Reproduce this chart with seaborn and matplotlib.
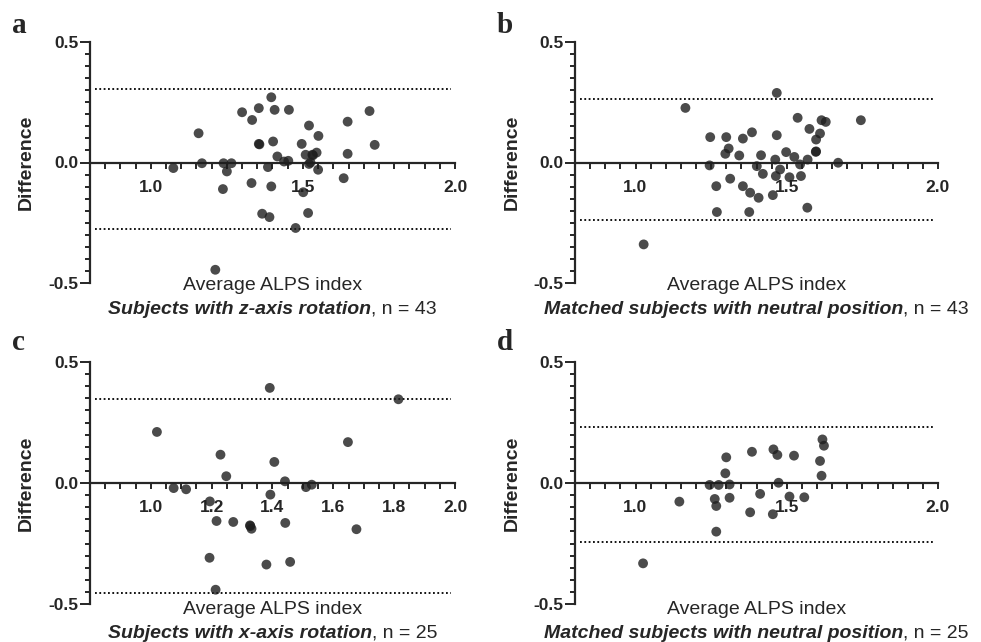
import numpy as np
import pandas as pd
import matplotlib
matplotlib.use('Agg')
import matplotlib.pyplot as plt
import seaborn as sns
from matplotlib.ticker import FixedLocator, MultipleLocator, FormatStrFormatter

# Bland-Altman data
a_avg = [1.074, 1.157, 1.168, 1.239, 1.250, 1.265, 1.237, 1.300, 1.333, 1.355, 1.355, 1.357,
         1.396, 1.407, 1.454, 1.402, 1.416, 1.438, 1.452, 1.385, 1.331, 1.396, 1.366, 1.390,
         1.476, 1.496, 1.520, 1.551, 1.509, 1.531, 1.545, 1.520, 1.525, 1.550, 1.501, 1.517,
         1.634, 1.647, 1.647, 1.719, 1.736, 1.212, 1.533]
a_diff = [-0.023, 0.121, -0.003, -0.003, -0.037, -0.003, -0.110, 0.208, 0.176, 0.225, 0.077, 0.075,
          0.270, 0.218, 0.218, 0.087, 0.025, 0.004, 0.007, -0.019, -0.085, -0.099, -0.212, -0.226,
          -0.271, 0.077, 0.153, 0.110, 0.032, 0.032, 0.041, -0.006, 0.000, -0.030, -0.123, -0.209,
          -0.065, 0.169, 0.036, 0.213, 0.073, -0.444, 0.030]
a_limits = [0.303, -0.275]

b_avg = [1.165, 1.027, 1.247, 1.245, 1.267, 1.269, 1.300, 1.308, 1.297, 1.313, 1.343, 1.355,
         1.385, 1.355, 1.379, 1.376, 1.407, 1.401, 1.415, 1.421, 1.454, 1.462, 1.467, 1.467,
         1.464, 1.478, 1.498, 1.509, 1.525, 1.536, 1.547, 1.544, 1.568, 1.569, 1.575, 1.596,
         1.597, 1.610, 1.615, 1.629, 1.670, 1.745, 1.597]
b_diff = [0.226, -0.339, 0.105, -0.012, -0.098, -0.205, 0.105, 0.058, 0.036, -0.067, 0.029, 0.099,
          0.125, -0.098, -0.125, -0.205, -0.146, -0.015, 0.030, -0.047, -0.135, 0.012, 0.113, 0.288,
          -0.056, -0.029, 0.043, -0.061, 0.023, 0.185, -0.056, -0.008, -0.187, 0.012, 0.139, 0.044,
          0.095, 0.120, 0.175, 0.168, -0.001, 0.175, 0.046]
b_limits = [0.263, -0.240]

c_avg = [1.020, 1.075, 1.116, 1.194, 1.193, 1.213, 1.216, 1.229, 1.248, 1.271, 1.326, 1.331,
         1.380, 1.391, 1.393, 1.406, 1.441, 1.442, 1.458, 1.510, 1.529, 1.648, 1.676, 1.814, 1.327]
c_diff = [0.211, -0.021, -0.026, -0.076, -0.309, -0.441, -0.157, 0.117, 0.028, -0.161, -0.175, -0.189,
          -0.337, 0.393, -0.048, 0.087, 0.007, -0.165, -0.326, -0.017, -0.007, 0.169, -0.191, 0.346, -0.178]
c_limits = [0.346, -0.455]

d_avg = [1.025, 1.145, 1.245, 1.262, 1.267, 1.267, 1.275, 1.300, 1.297, 1.311, 1.311, 1.379,
         1.385, 1.412, 1.454, 1.456, 1.469, 1.473, 1.509, 1.524, 1.558, 1.610, 1.615, 1.618, 1.623]
d_diff = [-0.332, -0.077, -0.008, -0.066, -0.095, -0.201, -0.008, 0.106, 0.040, -0.006, -0.061, -0.121,
          0.129, -0.045, -0.129, 0.139, 0.116, 0.001, -0.056, 0.113, -0.059, 0.091, 0.030, 0.180, 0.154]
d_limits = [0.233, -0.245]

xticks_ab = [1.0, 1.5, 2.0]
xticks_cd = [1.0, 1.2, 1.4, 1.6, 1.8, 2.0]
yticks = [-0.5, 0.0, 0.5]
letters = ['a', 'b', 'c', 'd']
groups = ['Subjects with z-axis rotation', 'Matched subjects with neutral position',
          'Subjects with x-axis rotation', 'Matched subjects with neutral position']
counts = [43, 43, 25, 25]

sns.set_style('ticks')
plt.rcParams['font.family'] = ['Liberation Sans', 'DejaVu Sans']

W, H = 981, 642
fig = plt.figure(figsize=(W / 100, H / 100), dpi=100)

# pixel boxes: left, right, top, bottom, letter baseline, xlabel baseline, subtitle baseline
panels = [
    (a_avg, a_diff, a_limits, xticks_ab, (90, 455, 41.7, 283.3), (33, 290, 314)),
    (b_avg, b_diff, b_limits, xticks_ab, (575, 938, 41.7, 283.3), (33, 290, 314)),
    (c_avg, c_diff, c_limits, xticks_cd, (90, 455, 362, 604), (350, 614, 638)),
    (d_avg, d_diff, d_limits, xticks_ab, (575, 938, 362, 604), (350, 614, 638)),
]

subtitles = []
for i, (avg, diff, lims, xt, box, txt_y) in enumerate(panels):
    x0, x1, y0, y1 = box
    ax = fig.add_axes([x0 / W, 1 - y1 / H, (x1 - x0) / W, (y1 - y0) / H])
    df = pd.DataFrame({'avg': avg, 'diff': diff})
    sns.scatterplot(data=df, x='avg', y='diff', ax=ax, color='#1e1e1e', alpha=0.8,
                    s=50, edgecolor='none', legend=False, zorder=3)
    for v in lims:
        ax.axhline(v, xmin=0.015, xmax=0.99, color='black', lw=1.3, ls=(0, (1, 1.4)))

    ax.set_xlim(0.8, 2.0)
    ax.set_ylim(-0.5, 0.5)
    sns.despine(ax=ax)
    ax.spines['bottom'].set_position(('data', 0))
    ax.spines['bottom'].set_linewidth(1.6)
    ax.spines['left'].set_linewidth(1.6)

    ax.xaxis.set_major_locator(FixedLocator(xt))
    ax.xaxis.set_minor_locator(MultipleLocator(0.05))
    ax.yaxis.set_major_locator(FixedLocator(yticks))
    ax.yaxis.set_minor_locator(MultipleLocator(0.05))
    ax.xaxis.set_major_formatter(FormatStrFormatter('%.1f'))
    ax.yaxis.set_major_formatter(FormatStrFormatter('%.1f'))
    ax.tick_params(axis='x', which='major', length=4, width=1.4, pad=8.5, labelsize=12.5)
    ax.tick_params(axis='x', which='minor', length=4, width=1.4)
    ax.tick_params(axis='y', which='major', length=7, width=1.4, pad=1.5, labelsize=12.5)
    ax.tick_params(axis='y', which='minor', length=3.6, width=1.4)
    for lab in ax.get_xticklabels() + ax.get_yticklabels():
        lab.set_fontweight('bold')

    ax.set_xlabel('')
    ax.set_ylabel('Difference', fontsize=14, fontweight='bold')
    ax.yaxis.set_label_coords(-0.15, 0.5)

    let_y, lab_y, sub_y = txt_y
    ax.text(0.5, (y1 - lab_y) / (y1 - y0), 'Average ALPS index', transform=ax.transAxes,
            ha='center', va='baseline', fontsize=14)
    t1 = ax.text(0.5, (y1 - sub_y) / (y1 - y0), groups[i], transform=ax.transAxes, ha='left',
                 va='baseline', fontsize=14, fontweight='bold', fontstyle='italic')
    t2 = ax.annotate(', n = %d' % counts[i], xy=(1, 0), xycoords=t1, ha='left',
                     va='bottom', fontsize=14)
    subtitles.append((ax, t1, t2))

    fig.text((x0 - 78) / W, 1 - let_y / H, letters[i], family='Liberation Serif',
             fontweight='bold', fontsize=21, ha='left', va='baseline')

# center the two-part subtitle under each panel
fig.canvas.draw()
r = fig.canvas.get_renderer()
for ax, t1, t2 in subtitles:
    w = t1.get_window_extent(r).width + t2.get_window_extent(r).width
    aw = ax.get_window_extent(r).width
    t1.set_x(0.5 - w / aw / 2)

fig.savefig('out.png', dpi=100)
